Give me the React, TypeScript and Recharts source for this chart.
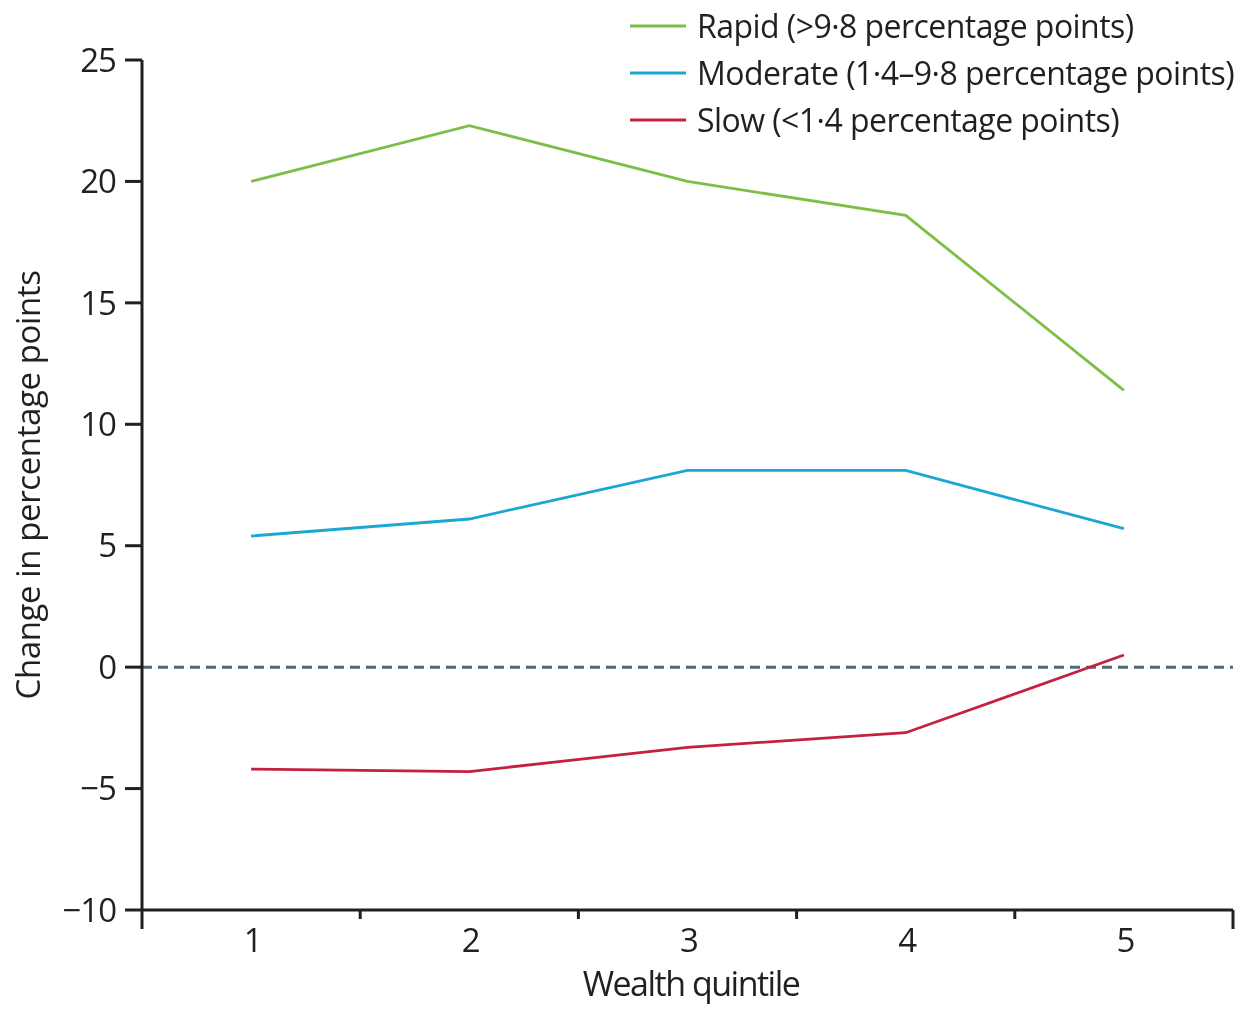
import { LineChart, Line, XAxis, YAxis, ReferenceLine, Legend } from 'recharts';

const quintiles = [1, 2, 3, 4, 5];
const rapid = [20.0, 22.3, 20.0, 18.6, 11.4];
const moderate = [5.4, 6.1, 8.1, 8.1, 5.7];
const slow = [-4.2, -4.3, -3.3, -2.7, 0.5];
const yTicks = [-10, -5, 0, 5, 10, 15, 20, 25];
const xTicks = [0.5, 1, 1.5, 2, 2.5, 3, 3.5, 4, 4.5, 5, 5.5];
const seriesNames = [
    'Rapid (>9·8 percentage points)',
    'Moderate (1·4–9·8 percentage points)',
    'Slow (<1·4 percentage points)',
];

const FONT = "'Open Sans', sans-serif";
const INK = '#231f20';

const data = quintiles.map((q, i) => ({
    q,
    rapid: rapid[i],
    moderate: moderate[i],
    slow: slow[i],
}));

const XTick = (props: any) => {
    const { x, y, payload } = props;
    const v = payload.value;
    if (Number.isInteger(v)) {
        return (
            <text x={x + 2} y={y + 42} textAnchor="middle" fontSize={33} fill={INK} fontFamily={FONT}>
                {v}
            </text>
        );
    }
    const len = v === 0.5 || v === 5.5 ? 19 : 9;
    return <line x1={x} y1={y} x2={x} y2={y + len} stroke={INK} strokeWidth={3} />;
};

const fmtY = (v: number) => (v < 0 ? '\u2212' + Math.abs(v) : String(v));

const YLabel = () => (
    <text
        x={40}
        y={485}
        transform="rotate(-90, 40, 485)"
        textAnchor="middle"
        fontSize={33}
        letterSpacing={-0.4}
        fill={INK}
        fontFamily={FONT}
    >
        Change in percentage points
    </text>
);

const XLabel = () => (
    <text x={691} y={996} textAnchor="middle" fontSize={34} letterSpacing={-1.5} fill={INK} fontFamily={FONT}>
        Wealth quintile
    </text>
);

const LegendBox = (props: any) => {
    const items = [...props.payload].sort(
        (a: any, b: any) => seriesNames.indexOf(a.value) - seriesNames.indexOf(b.value)
    );
    return (
        <div style={{ fontFamily: FONT, fontSize: 32, letterSpacing: -0.55, color: INK }}>
            {items.map((p: any) => (
                <div key={p.value} style={{ display: 'flex', alignItems: 'center', height: 47 }}>
                    <svg width={56} height={4}>
                        <line x1={0} y1={2} x2={56} y2={2} stroke={p.color} strokeWidth={3} />
                    </svg>
                    <span style={{ marginLeft: 11, whiteSpace: 'nowrap' }}>{p.value}</span>
                </div>
            ))}
        </div>
    );
};

const App = () => {
    return (
        <div style={{ position: 'fixed', left: 0, top: 0 }}>
            <LineChart width={1239} height={1009} data={data} margin={{ top: 60, right: 6, bottom: 0, left: 0 }}>
                <XAxis
                    dataKey="q"
                    type="number"
                    domain={[0.5, 5.5]}
                    ticks={xTicks}
                    interval={0}
                    height={99}
                    tickLine={false}
                    tickSize={0}
                    tickMargin={0}
                    tick={<XTick />}
                    axisLine={{ stroke: INK, strokeWidth: 3 }}
                    label={<XLabel />}
                />
                <YAxis
                    type="number"
                    domain={[-10, 25]}
                    ticks={yTicks}
                    interval={0}
                    width={142}
                    tickSize={17}
                    tickMargin={9}
                    tickFormatter={fmtY}
                    tick={{ fontSize: 33, fill: INK, fontFamily: FONT, letterSpacing: -1 }}
                    tickLine={{ stroke: INK, strokeWidth: 3 }}
                    axisLine={{ stroke: INK, strokeWidth: 3 }}
                    label={<YLabel />}
                />
                <ReferenceLine y={0} stroke="#4f6a75" strokeWidth={3} strokeDasharray="10 6" />
                <Legend
                    layout="vertical"
                    align="center"
                    verticalAlign="middle"
                    content={<LegendBox />}
                    wrapperStyle={{ top: 2, left: 630, width: 609 }}
                />
                <Line name={seriesNames[0]} dataKey="rapid" stroke="#7dbf46" strokeWidth={2.8} dot={false} isAnimationActive={false} />
                <Line name={seriesNames[1]} dataKey="moderate" stroke="#1aa7d1" strokeWidth={2.8} dot={false} isAnimationActive={false} />
                <Line name={seriesNames[2]} dataKey="slow" stroke="#c4213f" strokeWidth={2.8} dot={false} isAnimationActive={false} />
            </LineChart>
        </div>
    );
};

export default App;
